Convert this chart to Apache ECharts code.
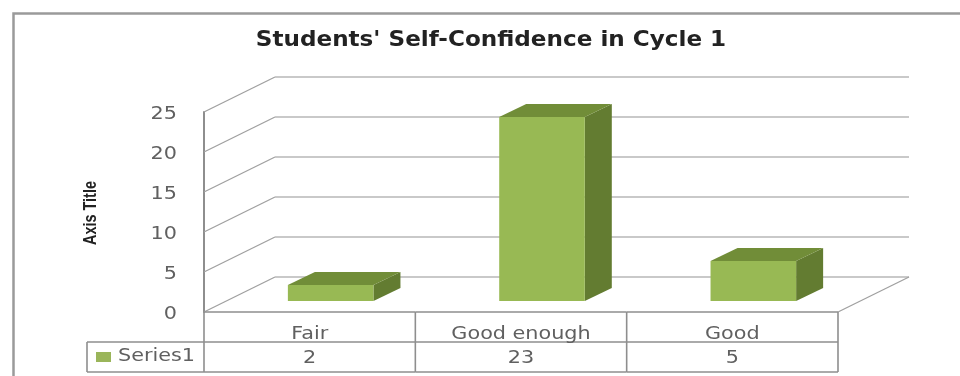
<!DOCTYPE html>
<html>
<head>
<meta charset="utf-8">
<style>html,body{margin:0;padding:0;background:#fff}#chart{width:960px;height:376px}</style>
<script src="https://cdn.jsdelivr.net/npm/echarts@6/dist/echarts.min.js"></script>
</head>
<body>
<div id="chart"></div>
<script>
const categories = ['Fair', 'Good enough', 'Good'];
const seriesName = 'Series1';
const seriesValues = [2, 23, 5];
const yTicks = [0, 5, 10, 15, 20, 25];
const chartTitle = "Students' Self-Confidence in Cycle 1";
const yAxisTitle = 'Axis Title';

// Projection of the pseudo-3D box: depth of the walls and of each column.
const WALL_DX = 71, WALL_DY = -35;
const BAR_SHIFT_X = 21, BAR_SHIFT_Y = -11;
const BAR_DX = 27, BAR_DY = -13;
const BAR_RATIO = 0.405;
const ROW_HEIGHT = 30;

// All labels use a horizontally stretched face.
const LABEL_FONT = '17px "DejaVu Sans"';
const LABEL_STRETCH = 1.22;
const LABEL_COLOR = '#606060';
const WALL_COLOR = '#c9c9c9';
const EDGE_COLOR = '#a0a0a0';
const FRAME_COLOR = '#8e8e8e';

const chart = echarts.init(document.getElementById('chart'), null, { renderer: 'canvas' });

function label(text, x, y, align) {
  return {
    type: 'text', x, y, scaleX: LABEL_STRETCH,
    style: { text: String(text), fill: LABEL_COLOR, font: LABEL_FONT, align, verticalAlign: 'middle' }
  };
}

// Gridlines on the back wall, their slanted run on the side wall, and the tick label.
function renderWall(params, api) {
  const v = api.value(1);
  const half = api.size([1, 0])[0] / 2;
  const a = api.coord([0, v]);
  const b = api.coord([categories.length - 1, v]);
  const x0 = a[0] - half, x1 = b[0] + half, y = a[1];
  const children = [
    { type: 'polyline', shape: { points: [[x0, y], [x0 + WALL_DX, y + WALL_DY]] },
      style: { stroke: EDGE_COLOR, lineWidth: 1.3, fill: null } },
    { type: 'polyline', shape: { points: [[x0 + WALL_DX, y + WALL_DY], [x1 + WALL_DX, y + WALL_DY]] },
      style: { stroke: WALL_COLOR, lineWidth: 2, fill: null } },
    label(v, x0 - 27, y + 3, 'right')
  ];
  if (v === 0) {
    children.push({ type: 'polyline', shape: { points: [[x1, y], [x1 + WALL_DX, y + WALL_DY]] },
      style: { stroke: EDGE_COLOR, lineWidth: 1.3, fill: null } });
  }
  return { type: 'group', children };
}

// One column: front face, darker top and darkest right side.
function renderBar(params, api) {
  const i = api.value(0);
  const base = api.coord([i, 0]);
  const top = api.coord([i, api.value(1)]);
  const w = api.size([1, 0])[0] * BAR_RATIO;
  const l = base[0] + BAR_SHIFT_X - w / 2, r = l + w;
  const yb = base[1] + BAR_SHIFT_Y, yt = top[1] + BAR_SHIFT_Y;
  return {
    type: 'group',
    children: [
      { type: 'polygon', shape: { points: [[r, yt], [r + BAR_DX, yt + BAR_DY], [r + BAR_DX, yb + BAR_DY], [r, yb]] },
        style: { fill: '#637c31' } },
      { type: 'polygon', shape: { points: [[l, yt], [l + BAR_DX, yt + BAR_DY], [r + BAR_DX, yt + BAR_DY], [r, yt]] },
        style: { fill: '#718d38' } },
      { type: 'rect', shape: { x: l, y: yt, width: w, height: yb - yt }, style: { fill: '#98b954' } }
    ]
  };
}

// Data table below the floor: cell borders, category row, value row, series key.
function renderTable(params, api) {
  const i = api.value(0);
  const half = api.size([1, 0])[0] / 2;
  const p = api.coord([i, 0]);
  const x0 = p[0] - half, x1 = p[0] + half, y = p[1];
  const line = pts => ({ type: 'polyline', shape: { points: pts },
    style: { stroke: FRAME_COLOR, lineWidth: 1.6, fill: null } });
  const children = [
    line([[x1, y], [x1, y + ROW_HEIGHT * 2]]),
    line([[x0, y], [x1, y]]),
    line([[x0, y + ROW_HEIGHT], [x1, y + ROW_HEIGHT]]),
    line([[x0, y + ROW_HEIGHT * 2], [x1, y + ROW_HEIGHT * 2]]),
    label(categories[i], p[0], y + ROW_HEIGHT * 0.5 + 8, 'center'),
    label(api.value(1), p[0], y + ROW_HEIGHT * 1.5 + 2, 'center')
  ];
  if (i === 0) {
    const lx = x0 - 117;
    children.push(line([[x0, y], [x0, y + ROW_HEIGHT * 2]]));
    children.push(line([[lx, y + ROW_HEIGHT], [x0, y + ROW_HEIGHT]]));
    children.push(line([[lx, y + ROW_HEIGHT * 2], [x0, y + ROW_HEIGHT * 2]]));
    children.push(line([[lx, y + ROW_HEIGHT], [lx, y + ROW_HEIGHT * 2]]));
    children.push({ type: 'rect', shape: { x: lx + 9, y: y + ROW_HEIGHT + 10, width: 15, height: 10 },
      style: { fill: '#9ab55a' } });
    children.push(label(seriesName, lx + 31, y + ROW_HEIGHT * 1.5, 'left'));
  }
  return { type: 'group', children };
}

chart.setOption({
  animation: false,
  backgroundColor: '#ffffff',
  grid: { left: 204, right: 122, top: 112, bottom: 64 },
  xAxis: {
    type: 'category', data: categories,
    axisLine: { show: false }, axisTick: { show: false }, axisLabel: { show: false }
  },
  yAxis: {
    type: 'value', min: 0, max: 25, interval: 5,
    axisLine: { show: true, lineStyle: { color: FRAME_COLOR, width: 2 } },
    axisTick: { show: false }, splitLine: { show: false }, axisLabel: { show: false }
  },
  graphic: [
    { type: 'polyline', silent: true, z: -1,
      shape: { points: [[13.5, 376], [13.5, 13.5], [960, 13.5]] },
      style: { stroke: '#9a9a9a', lineWidth: 2.5, fill: null } },
    { type: 'text', silent: true, x: 491, y: 41, scaleX: 1.1,
      style: { text: chartTitle, fill: '#222222', font: 'bold 21px "DejaVu Sans"', align: 'center', verticalAlign: 'middle' } },
    { type: 'text', silent: true, x: 91, y: 213, rotation: Math.PI / 2, scaleX: 0.76,
      style: { text: yAxisTitle, fill: '#222222', font: 'bold 19px "Liberation Sans"', align: 'center', verticalAlign: 'middle' } }
  ],
  series: [
    { type: 'custom', name: 'wall', z: 1, silent: true, clip: false, renderItem: renderWall,
      data: yTicks.map(t => [0, t]) },
    { type: 'custom', name: seriesName, z: 3, clip: false, renderItem: renderBar,
      itemStyle: { color: '#98b954' },
      data: seriesValues.map((v, i) => [i, v]) },
    { type: 'custom', name: 'table', z: 2, silent: true, clip: false, renderItem: renderTable,
      data: seriesValues.map((v, i) => [i, v]) }
  ]
});
</script>
</body>
</html>
